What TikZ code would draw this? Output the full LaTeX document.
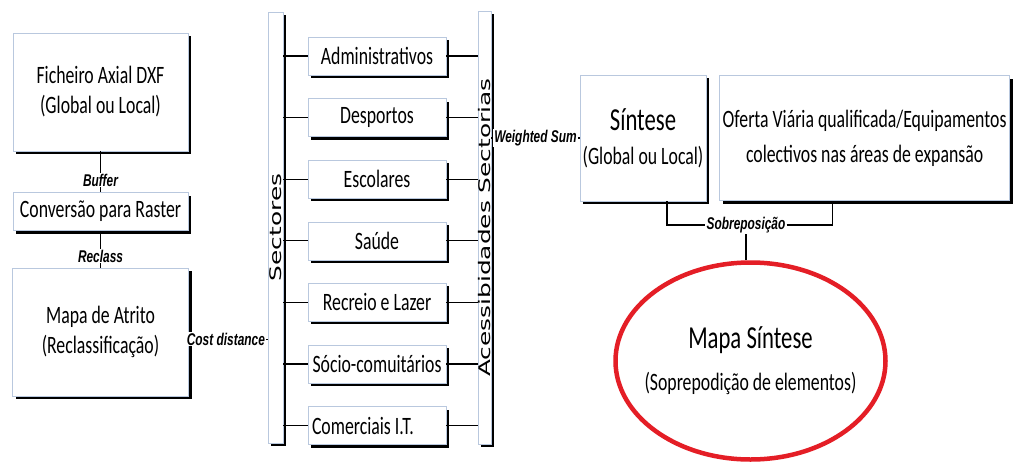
\documentclass[tikz,border=0pt]{standalone}
\usepackage{fontspec}
\usepackage{tikz}
\usetikzlibrary{positioning,shapes.geometric,shadows}
\newfontfamily\boxfont{Carlito}[FakeStretch=0.71]
\newfontfamily\tagfont{Liberation Sans}[FakeStretch=0.7]
\newfontfamily\barfont{DejaVu Sans}[FakeStretch=1.55]
\definecolor{boxEdge}{RGB}{185,200,222}
\definecolor{mapRed}{RGB}{228,30,38}
\tikzset{
  box/.style={draw=boxEdge, line width=0.6pt, fill=white, align=center, inner sep=2pt, font=\boxfont\fontsize{25}{30}\selectfont, drop shadow={shadow xshift=3pt, shadow yshift=-3pt, opacity=1, fill=black}},
  sectbox/.style={box, minimum width=138pt, minimum height=38pt},
  barbox/.style={box, inner sep=0pt, minimum width=15pt, minimum height=431pt, font=\barfont\fontsize{16}{18}\selectfont},
  tag/.style={fill=white, inner xsep=1pt, inner ysep=1pt, font=\tagfont\bfseries\itshape\fontsize{17}{19}\selectfont},
  mapbox/.style={ellipse, draw=mapRed, line width=4.5pt, fill=white, align=center, minimum width=270pt, minimum height=197pt, inner xsep=-11pt, inner ysep=0pt, font=\boxfont\fontsize{25}{30}\selectfont},
  link/.style={draw=black, line width=1.2pt}
}
\begin{document}
\begin{tikzpicture}[x=1pt, y=-1pt, node distance=23pt]
        \useasboundingbox (0,0) rectangle (1015,466);
        % left column
        \node[box, minimum width=175pt, minimum height=118pt] (fich) at (100.5,92) {Ficheiro Axial DXF\\(Global ou Local)};
        \node[box, below=41pt of fich, minimum width=175pt, minimum height=38pt] (conv) {Conversão para Raster};
        \node[box, below=37pt of conv, minimum width=176pt, minimum height=128pt] (atri) {Mapa de Atrito\\(Reclassificação)};
        % sectors
        \node[barbox] (sect) at (275.5,227.5) {\rotatebox{90}{Sectores}};
        \node[sectbox] (adm) at (377,56) {Administrativos};
        \node[sectbox, below=of adm] (des) {Desportos};
        \node[sectbox, below=of des] (esc) {Escolares};
        \node[sectbox, below=of esc] (sau) {Saúde};
        \node[sectbox, below=of sau] (rec) {Recreio e Lazer};
        \node[sectbox, below=of rec] (soc) {Sócio-comuitários};
        \node[sectbox, below=of soc, text width=130pt, align=flush left, inner xsep=4pt] (com) {Comerciais I.T.};
        \node[barbox, minimum width=13pt, minimum height=433pt] (aces) at (484.5,227.5) {\rotatebox{90}{Acessibidades Sectorias}};
        % synthesis
        \node[box, minimum width=126pt, minimum height=126pt] (sint) at (643,138) {{\fontsize{32}{36}\selectfont Síntese}\\[4pt](Global ou Local)};
        \node[box, right=13pt of sint, minimum width=290pt, minimum height=125pt] (ofer) {Oferta Viária qualificada/Equipamentos\\[5pt]colectivos nas áreas de expansão};
        \node[tag] (sobre) at (746,225) {Sobreposição};
        \node[mapbox] (mapa) at (750.5,361) {{\fontsize{32}{36}\selectfont Mapa Síntese}\\[12pt](Soprepodição de elementos)};
        \draw[link] (fich) -- node[tag, pos=0.7] {Buffer} (conv);
        \draw[link] (conv) -- node[tag, pos=0.68] {Reclass} (atri);
        \draw[link] ([yshift=-7pt]atri.east) -- node[tag, pos=0.47] {Cost distance} ([yshift=-7pt]atri.east -| sect.west);
        \foreach \s in {adm,des,esc,sau,rec,soc,com} {
          \draw[link] (sect.east |- \s.west) -- (\s.west);
          \draw[link] (\s.east) -- (\s.east -| aces.west);
        }
        \draw[link] (aces.east |- sint.west) -- node[tag] {Weighted Sum} (sint.west);
        \draw[link] ([xshift=24pt]sint.south) |- (sobre);
        \draw[link] (sobre) -| ([xshift=-32pt]ofer.south);
        \draw[link] (sobre) -- (sobre |- mapa.north);
      \end{tikzpicture}
\end{document}
